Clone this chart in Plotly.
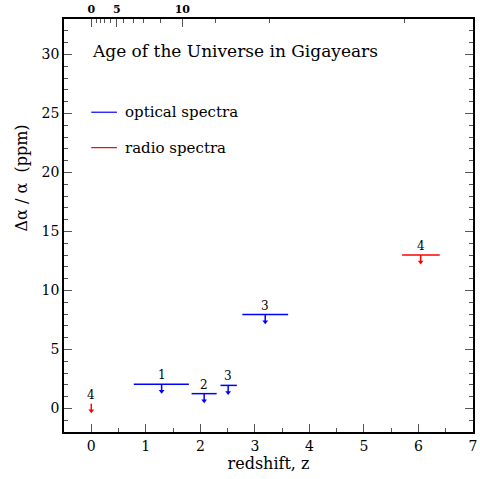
import plotly.graph_objects as go

# ---- data ----
opt_z = [1.29, 2.07, 2.51, 3.19]
opt_z_lo = [0.78, 1.84, 2.37, 2.77]
opt_z_hi = [1.79, 2.30, 2.67, 3.61]
opt_lim = [2.05, 1.25, 1.95, 7.95]
opt_labels = ["1", "2", "3", "3"]

rad_z = [0.0, 6.04]
rad_z_lo = [0.0, 5.70]
rad_z_hi = [0.0, 6.39]
rad_lim = [0.40, 13.0]
rad_labels = ["4", "4"]

arrow_len = 0.85

# top axis: age ticks (Gyr) and their redshift positions
age_major_labels = ["0", "5", "10"]
age_major_z = [0.0, 0.47, 1.67]
age_minor_z = [0.09, 0.17, 0.25, 0.35, 0.60, 0.78, 0.96, 1.27, 2.27, 3.27, 5.75]

BLUE = "#0000ff"
RED = "#ff0000"
FONT = "DejaVu Serif"

fig = go.Figure()


def add_limits(zs, los, his, ys, labels, color):
    for z, lo, hi, y, lab in zip(zs, los, his, ys, labels):
        if hi > lo:
            fig.add_trace(go.Scatter(x=[lo, hi], y=[y, y], mode="lines",
                                     line=dict(color=color, width=1.5),
                                     hoverinfo="skip", showlegend=False))
        fig.add_trace(go.Scatter(x=[z, z], y=[y, y - arrow_len + 0.2], mode="lines",
                                 line=dict(color=color, width=1.5),
                                 hoverinfo="skip", showlegend=False))
        fig.add_trace(go.Scatter(x=[z], y=[y - arrow_len + 0.25], mode="markers",
                                 marker=dict(symbol="triangle-down", size=5, color=color),
                                 hoverinfo="skip", showlegend=False))
        fig.add_annotation(x=z, y=y, text=lab, showarrow=False, yshift=9,
                           font=dict(family=FONT, size=12, color="black"))


add_limits(opt_z, opt_z_lo, opt_z_hi, opt_lim, opt_labels, BLUE)
add_limits(rad_z, rad_z_lo, rad_z_hi, rad_lim, rad_labels, RED)

# legend-like labels inside plot
leg_y = [25.1, 22.1]
leg_text = ["optical spectra", "radio spectra"]
leg_col = [BLUE, RED]
for y, t, c in zip(leg_y, leg_text, leg_col):
    fig.add_trace(go.Scatter(x=[0.0, 0.47], y=[y, y], mode="lines",
                             line=dict(color=c, width=1.2),
                             hoverinfo="skip", showlegend=False))
    fig.add_annotation(x=0.58, y=y, text=t, showarrow=False, xanchor="left",
                       font=dict(family=FONT, size=15, color="black"))

fig.add_annotation(x=-0.02, y=30.3, text="Age of the Universe in Gigayears",
                   showarrow=False, xanchor="left",
                   font=dict(family=FONT, size=17, color="black"))

# y-axis label (placed as in the reference, above the axis centre)
fig.add_annotation(xref="paper", yref="paper", x=-0.104, y=0.615,
                   xanchor="center", yanchor="middle",
                   text="Δα / α  (ppm)", textangle=-90, showarrow=False,
                   font=dict(family=FONT, size=16, color="black"))

# invisible trace for the top axis
fig.add_trace(go.Scatter(x=[0], y=[0], xaxis="x2", mode="markers",
                         marker=dict(opacity=0), hoverinfo="skip", showlegend=False))

axis_common = dict(showgrid=False, zeroline=False, showline=True, linecolor="black",
                   linewidth=1.5, ticks="inside", tickcolor="#555", tickwidth=1.2)

fig.update_layout(
    width=480, height=479,
    margin=dict(l=64, r=3, t=19, b=47),
    paper_bgcolor="white", plot_bgcolor="white",
    font=dict(family=FONT, size=14, color="black"),
    xaxis=dict(range=[-0.5, 7], tickmode="array", tickvals=list(range(0, 8)),
               ticklen=8, mirror=False,
               minor=dict(tickmode="array", tickvals=[-0.5 + 0.5 * i for i in range(16)],
                          ticklen=4, ticks="inside", tickcolor="#555"),
               title=dict(text="redshift, z", font=dict(family=FONT, size=16), standoff=4),
               tickfont=dict(family=FONT, size=14), **axis_common),
    xaxis2=dict(range=[-0.5, 7], overlaying="x", side="top", anchor="y",
                tickmode="array", tickvals=age_major_z, ticktext=age_major_labels,
                ticklen=8,
                minor=dict(tickmode="array", tickvals=age_minor_z, ticklen=4,
                           ticks="inside", tickcolor="#555"),
                tickfont=dict(family=FONT, size=11, weight="bold"), **axis_common),
    yaxis=dict(range=[-2, 33], tickmode="array", tickvals=[0, 5, 10, 15, 20, 25, 30],
               ticklen=8, mirror="ticks",
               minor=dict(tickmode="array", tickvals=list(range(-2, 34)),
                          ticklen=4, ticks="inside", tickcolor="#555"),
               tickfont=dict(family=FONT, size=14), **axis_common),
)

fig.write_html("out.html")
